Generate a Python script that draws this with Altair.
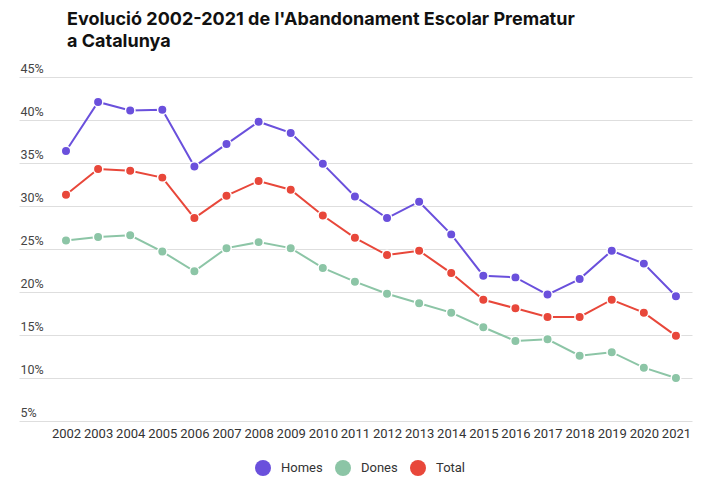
import altair as alt
import pandas as pd

years = list(range(2002, 2022))
homes = [36.4, 42.1, 41.1, 41.2, 34.6, 37.2, 39.8, 38.5, 34.9, 31.1,
         28.6, 30.5, 26.7, 21.9, 21.7, 19.7, 21.5, 24.8, 23.3, 19.5]
dones = [26.0, 26.4, 26.6, 24.7, 22.4, 25.1, 25.8, 25.1, 22.8, 21.2,
         19.8, 18.7, 17.6, 15.9, 14.3, 14.5, 12.6, 13.0, 11.2, 10.0]
total = [31.3, 34.3, 34.1, 33.3, 28.6, 31.2, 32.9, 31.9, 28.9, 26.3,
         24.3, 24.8, 22.2, 19.1, 18.1, 17.1, 17.1, 19.1, 17.6, 14.9]
series = ["Homes", "Dones", "Total"]
colors = ["#6a50dc", "#8cc5a6", "#e8473a"]
y_ticks = [5, 10, 15, 20, 25, 30, 35, 40, 45]

rows = []
for name, vals in zip(series, [homes, dones, total]):
    for yr, v in zip(years, vals):
        rows.append({"Sèrie": name, "Any": yr, "Valor": v})
df = pd.DataFrame(rows)

FONT = "Roboto"
TFONT = "Inter"

x = alt.X("Any:Q",
          scale=alt.Scale(domain=[2000.536, 2021.5], nice=False, zero=False),
          axis=alt.Axis(values=years, format="d", title=None, grid=False,
                        domain=False, ticks=False, labelOverlap=False,
                        labelFlush=False, labelPadding=6, labelFontSize=13,
                        labelColor="#333", labelFont=FONT))
y = alt.Y("Valor:Q",
          scale=alt.Scale(domain=[5, 45], nice=False, zero=False),
          axis=alt.Axis(values=y_ticks, title=None, labelExpr="datum.value + '%'",
                        domain=False, ticks=False, gridColor="#dedede",
                        gridWidth=1, labelAlign="left", labelBaseline="bottom",
                        labelPadding=-1, labelOffset=-2, labelFontSize=12.5,
                        labelColor="#444", labelFont=FONT))
color = alt.Color("Sèrie:N",
                  scale=alt.Scale(domain=series, range=colors),
                  sort=series,
                  legend=alt.Legend(title=None, orient="none", direction="horizontal",
                                    legendX=236, legendY=383, symbolType="circle",
                                    symbolSize=256, symbolStrokeWidth=0,
                                    symbolOpacity=1, labelFontSize=13,
                                    labelColor="#333", labelFont=FONT,
                                    columnPadding=12, labelOffset=10))

base = alt.Chart(df)
lines = base.mark_line(strokeWidth=2).encode(x=x, y=y, color=color, detail="Sèrie:N")
points = base.mark_point(filled=True, size=90, stroke="white", strokeWidth=1.5,
                         opacity=1, strokeOpacity=1).encode(
    x=x, y=y, color=color, fill=alt.Fill("Sèrie:N", scale=alt.Scale(domain=series, range=colors), legend=None))

chart = (lines + points).properties(
    width=673, height=344,
    autosize=alt.AutoSizeParams(type="none"),
    padding={"left": 11, "top": 69, "right": 7, "bottom": 55},
    title=alt.TitleParams(
        text=["Evolució 2002-2021 de l'Abandonament Escolar Prematur", "a Catalunya"],
        anchor="start", fontSize=18, fontWeight="bold", font=TFONT, color="#111",
        dx=48, offset=11, lineHeight=22, frame="group"),
).configure_view(stroke=None)

chart.save("out.html", embed_options={"renderer": "svg", "actions": False})
